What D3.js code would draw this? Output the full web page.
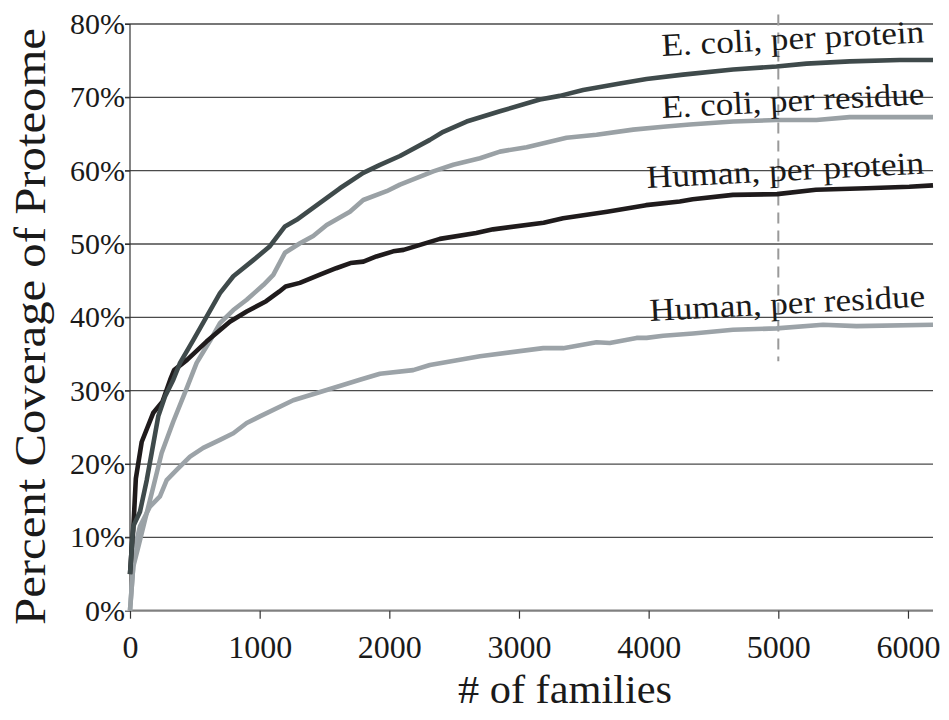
<!DOCTYPE html>
<html>
<head>
<meta charset="utf-8">
<script src="https://cdn.jsdelivr.net/npm/d3@7"></script>
<style>
  html, body { margin: 0; padding: 0; background: #fff; }
  svg { display: block; }
</style>
</head>
<body>
<svg id="chart" width="949" height="720"></svg>
<script>
// ---- data ----
const xTicks = [0, 1000, 2000, 3000, 4000, 5000, 6000];
const yTicks = [0, 10, 20, 30, 40, 50, 60, 70, 80];
const seriesNames = ["Human, per residue", "E. coli, per residue", "Human, per protein", "E. coli, per protein"];

const humanResidueX = [0, 25, 50, 77, 154, 231, 283, 360, 463, 565, 694, 797, 900, 1002, 1259, 1517, 1773, 1928, 2184, 2313, 2699, 3187, 3341, 3598, 3700, 3907, 3984, 4113, 4343, 4651, 4986, 5345, 5603, 6193];
const humanResidueY = [0, 6, 9.5, 11.5, 14.2, 15.6, 17.8, 19.2, 21, 22.2, 23.3, 24.2, 25.6, 26.5, 28.7, 30.1, 31.5, 32.3, 32.8, 33.5, 34.7, 35.8, 35.8, 36.6, 36.5, 37.2, 37.2, 37.5, 37.8, 38.3, 38.5, 39, 38.8, 39];

const ecoliResidueX = [0, 25, 64, 116, 180, 244, 334, 437, 514, 617, 694, 797, 900, 1028, 1105, 1195, 1311, 1413, 1517, 1696, 1799, 1979, 2082, 2339, 2493, 2699, 2853, 3059, 3367, 3598, 3881, 4113, 4318, 4651, 4986, 5294, 5551, 6193];
const ecoliResidueY = [0, 6, 8.7, 12.4, 16.9, 21.5, 25.8, 30.3, 33.8, 36.8, 39.2, 41, 42.4, 44.4, 45.8, 48.8, 50.1, 51.1, 52.6, 54.4, 56, 57.2, 58.1, 59.9, 60.8, 61.7, 62.6, 63.2, 64.5, 64.9, 65.6, 66, 66.3, 66.7, 66.9, 66.9, 67.3, 67.3];

const humanProteinX = [0, 15, 25, 45, 90, 180, 250, 310, 340, 440, 590, 770, 900, 1050, 1150, 1200, 1310, 1460, 1590, 1700, 1800, 1900, 2030, 2110, 2390, 2670, 2800, 3190, 3340, 3680, 3980, 4240, 4340, 4650, 4990, 5290, 5680, 6010, 6193];
const humanProteinY = [5, 9, 11, 18, 23, 27, 28.5, 31.5, 32.8, 34.2, 36.7, 39.4, 40.8, 42.2, 43.5, 44.2, 44.7, 45.8, 46.7, 47.4, 47.6, 48.3, 49, 49.2, 50.7, 51.5, 52, 52.9, 53.5, 54.4, 55.3, 55.8, 56.1, 56.7, 56.8, 57.4, 57.6, 57.8, 58];

const ecoliProteinX = [0, 15, 25, 77, 129, 167, 218, 270, 334, 386, 488, 591, 694, 797, 951, 1079, 1195, 1285, 1465, 1619, 1799, 1928, 2082, 2313, 2416, 2596, 2853, 3161, 3315, 3495, 3778, 3984, 4266, 4651, 4986, 5217, 5551, 5937, 6193];
const ecoliProteinY = [5, 9, 11.5, 13.5, 17.8, 21.5, 26.5, 29.2, 31.5, 33.8, 36.9, 40.1, 43.3, 45.6, 47.8, 49.7, 52.4, 53.3, 55.6, 57.6, 59.7, 60.8, 62, 64.2, 65.3, 66.7, 68.1, 69.7, 70.2, 71, 71.9, 72.5, 73.1, 73.8, 74.2, 74.6, 74.9, 75.1, 75.1];

const markerFamilies = 5000;
const markerRange = [34, 81.3];

// ---- layout ----
const FONT = "Liberation Serif";
const INK = "#1a1a1a";
const svg = d3.select("#chart");
const x = d3.scaleLinear().domain([0, 6193]).range([130, 933]);
const y = d3.scaleLinear().domain([0, 80]).range([610.7, 24]);

// gridlines
svg.append("g").selectAll("line").data(yTicks.filter(d => d > 0)).join("line")
  .attr("x1", x(0) - 5).attr("x2", x.range()[1])
  .attr("y1", d => y(d)).attr("y2", d => y(d))
  .attr("stroke", "#4a4a4a").attr("stroke-width", 1.3);

// y axis line
svg.append("line").attr("x1", x(0)).attr("x2", x(0))
  .attr("y1", y(80)).attr("y2", y(0))
  .attr("stroke", "#333").attr("stroke-width", 1.2);

// x axis (bottom)
const xAxis = d3.axisBottom(x).tickValues(xTicks).tickSize(8).tickFormat(d3.format("d"));
const gx = svg.append("g").attr("transform", `translate(0,${y(0)})`).call(xAxis);
gx.attr("font-family", FONT).attr("font-size", 32);
gx.select(".domain").attr("stroke", "#808080").attr("stroke-width", 2.2)
  .attr("d", `M${x(0)},0H${x.range()[1]}`);
gx.selectAll(".tick line").attr("stroke", "#333").attr("stroke-width", 1.2);
gx.selectAll(".tick text").attr("font-family", FONT).attr("font-size", 32)
  .attr("dy", "1.05em").attr("y", 14).attr("fill", INK);

// y tick labels
const yAxis = d3.axisLeft(y).tickValues(yTicks).tickSize(5).tickFormat(d => d + "%");
const gy = svg.append("g").attr("transform", `translate(${x(0)},0)`).call(yAxis);
gy.attr("font-family", FONT).attr("font-size", 30);
gy.select(".domain").remove();
gy.selectAll(".tick line").attr("stroke", "#333");
gy.selectAll(".tick text").attr("font-family", FONT).attr("font-size", 30)
  .attr("x", -5).attr("fill", INK);

// dashed marker
svg.append("line")
  .attr("x1", x(markerFamilies)).attr("x2", x(markerFamilies))
  .attr("y1", y(markerRange[1])).attr("y2", y(markerRange[0]))
  .attr("stroke", "#9a9a9a").attr("stroke-width", 2).attr("stroke-dasharray", "11,7");

// lines
const seriesData = [
  { name: seriesNames[0], xs: humanResidueX, ys: humanResidueY, color: "#9ca3a8" },
  { name: seriesNames[1], xs: ecoliResidueX, ys: ecoliResidueY, color: "#9aa1a5" },
  { name: seriesNames[2], xs: humanProteinX, ys: humanProteinY, color: "#1f1b1c" },
  { name: seriesNames[3], xs: ecoliProteinX, ys: ecoliProteinY, color: "#3f4a4b" }
];
const line = d3.line().x(d => x(d[0])).y(d => y(d[1]));
svg.append("g").selectAll("path").data(seriesData).join("path")
  .attr("d", s => line(s.xs.map((v, i) => [v, s.ys[i]])))
  .attr("fill", "none").attr("stroke", s => s.color)
  .attr("stroke-width", 4.6).attr("stroke-linejoin", "round").attr("stroke-linecap", "butt");

// series labels (positions in px)
const labelPos = [
  { text: seriesNames[3], x: 662, y: 56, len: 263 },
  { text: seriesNames[1], x: 662, y: 118, len: 263 },
  { text: seriesNames[2], x: 647, y: 188, len: 278 },
  { text: seriesNames[0], x: 650, y: 321, len: 276 }
];
svg.append("g").selectAll("text").data(labelPos).join("text")
  .attr("transform", d => `translate(${d.x},${d.y}) rotate(-3)`)
  .attr("font-family", FONT).attr("font-size", 32).attr("fill", INK)
  .attr("textLength", d => d.len).attr("lengthAdjust", "spacingAndGlyphs")
  .text(d => d.text);

// axis titles
svg.append("text")
  .attr("transform", `translate(45,${(28 + 625) / 2}) rotate(-90)`)
  .attr("text-anchor", "middle").attr("font-family", FONT).attr("font-size", 44).attr("fill", INK)
  .attr("textLength", 597).attr("lengthAdjust", "spacingAndGlyphs")
  .text("Percent Coverage of Proteome");

svg.append("text")
  .attr("x", 565).attr("y", 703)
  .attr("text-anchor", "middle").attr("font-family", FONT).attr("font-size", 40).attr("fill", INK)
  .attr("textLength", 214).attr("lengthAdjust", "spacingAndGlyphs")
  .text("# of families");
</script>
</body>
</html>
